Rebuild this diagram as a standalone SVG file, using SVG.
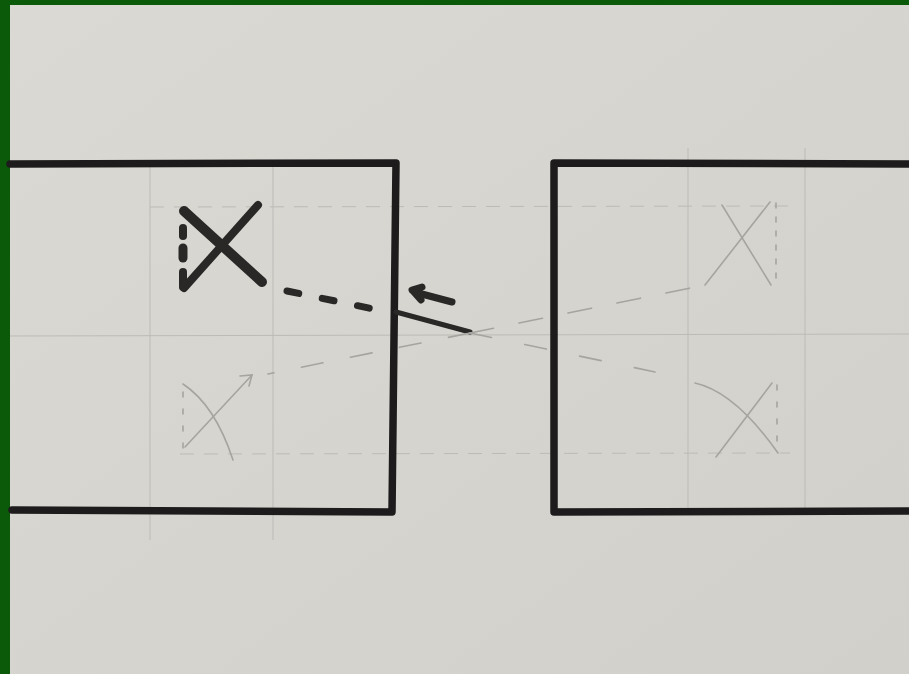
<svg xmlns="http://www.w3.org/2000/svg" width="909" height="674" viewBox="0 0 909 674">
<defs>
<style>
.ink{fill:none;stroke:#1d1b1b;stroke-width:7.5;stroke-linecap:round;stroke-linejoin:round}
.pen{fill:none;stroke:#2a2727;stroke-linecap:round;stroke-linejoin:round}
.grid{fill:none;stroke:#bdbbb6;stroke-width:1}
.pencil{fill:none;stroke:#a6a49f;stroke-width:1.6;stroke-linecap:round}
</style>
<linearGradient id="paper" x1="0" y1="0" x2="1" y2="1">
<stop offset="0" stop-color="#dbd9d4"/>
<stop offset="1" stop-color="#d2d0cb"/>
</linearGradient>
</defs>
<rect width="909" height="674" fill="url(#paper)"/>
<rect x="0" y="0" width="909" height="5" fill="#0a5a0a"/>
<rect x="0" y="0" width="10" height="674" fill="#0a5a0a"/>

<g id="grid">
<line class="grid" x1="150" y1="165" x2="150" y2="540"/>
<line class="grid" x1="273" y1="165" x2="273" y2="540"/>
<line class="grid" x1="688" y1="148" x2="688" y2="510"/>
<line class="grid" x1="805" y1="148" x2="805" y2="510"/>
<line class="grid" x1="10" y1="336" x2="909" y2="334"/>
<line class="grid" x1="150" y1="207" x2="790" y2="206" stroke-dasharray="14 10"/>
<line class="grid" x1="180" y1="454" x2="790" y2="453" stroke-dasharray="14 10"/>
</g>

<g id="left-box">
<path class="ink" d="M10 164 L396 163 L392 512 L12 510"/>
</g>
<g id="right-box">
<path class="ink" d="M909 164 L554 163 L554 512 L909 511"/>
</g>

<g id="x-top-left">
<line class="pen" stroke-width="10" x1="184" y1="211" x2="262" y2="282"/>
<line class="pen" stroke-width="8" x1="258" y1="205" x2="184" y2="288"/>
<line class="pen" stroke-width="8" x1="183" y1="228" x2="183" y2="236"/>
<line class="pen" stroke-width="9" x1="183" y1="248" x2="183" y2="258"/>
<line class="pen" stroke-width="8" x1="183" y1="272" x2="183" y2="287"/>
</g>
<g id="x-bottom-left">
<path class="pencil" d="M183 384 Q215 405 233 460"/>
<line class="pencil" x1="185" y1="447" x2="252" y2="375"/>
<path class="pencil" d="M240 376 L252 375 L249 386"/>
<line class="pencil" x1="183" y1="392" x2="183" y2="452" stroke-dasharray="5 12"/>
</g>
<g id="x-top-right">
<line class="pencil" x1="705" y1="285" x2="770" y2="202"/>
<line class="pencil" x1="722" y1="205" x2="771" y2="285"/>
<line class="pencil" x1="776" y1="203" x2="776" y2="286" stroke-dasharray="5 9"/>
</g>
<g id="x-bottom-right">
<path class="pencil" d="M695 383 Q735 392 778 453"/>
<line class="pencil" x1="716" y1="457" x2="772" y2="383"/>
<line class="pencil" x1="777" y1="385" x2="777" y2="448" stroke-dasharray="5 12"/>
</g>

<g id="connectors">
<line class="pen" stroke-width="7" x1="287" y1="291" x2="383" y2="311" stroke-dasharray="12 24"/>
<line class="pen" stroke-width="5" x1="396" y1="312" x2="470" y2="332"/>
<path class="pen" stroke-width="7" d="M452 302 L418 293 M412 290 L422 287 M413 291 L421 300"/>
<line class="pencil" x1="470" y1="333" x2="268" y2="374" stroke-dasharray="22 28"/>
<line class="pencil" x1="470" y1="333" x2="705" y2="285" stroke-dasharray="24 26"/>
<line class="pencil" x1="470" y1="333" x2="655" y2="372" stroke-dasharray="22 34"/>
</g>
</svg>
